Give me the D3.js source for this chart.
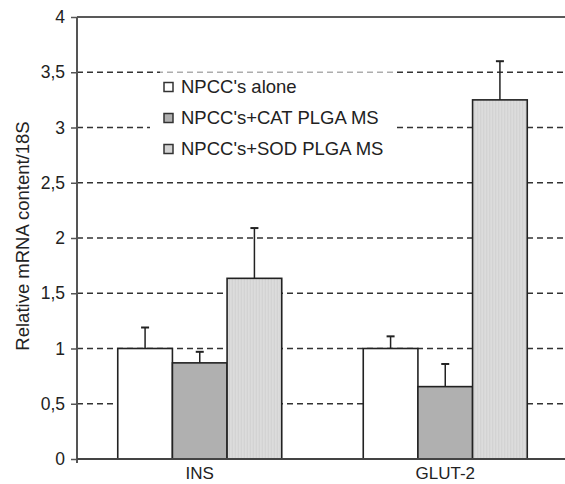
<!DOCTYPE html>
<html><head><meta charset="utf-8">
<script src="https://cdn.jsdelivr.net/npm/d3@7"></script>
<style>body{margin:0;background:#fff}svg{display:block;font-family:"Liberation Sans",Arial,sans-serif}</style>
</head><body>
<svg id="c" width="565" height="484"></svg>
<script>
const categories = ["INS", "GLUT-2"];
const series = ["NPCC's alone", "NPCC's+CAT PLGA MS", "NPCC's+SOD PLGA MS"];
const values = [[1.0, 0.87, 1.635], [1.0, 0.655, 3.25]];
const errors = [[0.19, 0.10, 0.455], [0.11, 0.205, 0.35]];
const yTicks = [0, 0.5, 1, 1.5, 2, 2.5, 3, 3.5, 4];
const fills = ["#ffffff", "#b0b0b0", "#dadada"];

const svg = d3.select("#c");
const L = 77, R = 568, T = 17, B = 459;
const FONT = "Liberation Sans, Arial, sans-serif";
const y = d3.scaleLinear().domain([0, 4]).range([B, T]);
const x0 = d3.scaleBand().domain(categories).range([L, R]).paddingInner(0.332).paddingOuter(0.166);
const x1 = d3.scaleBand().domain(series).range([0, x0.bandwidth()]);
const fmt = d => String(d).replace(".", ",");

// pattern for light bars
const defs = svg.append("defs");
const pat = defs.append("pattern").attr("id", "p").attr("width", 3).attr("height", 3).attr("patternUnits", "userSpaceOnUse");
pat.append("rect").attr("width", 3).attr("height", 3).attr("fill", "#dcdcdc");
pat.append("rect").attr("width", 1).attr("height", 3).attr("fill", "#d0d0d0");

// grid
svg.append("g").selectAll("line").data(yTicks.filter(d => d > 0 && d < 4)).join("line")
  .attr("x1", L).attr("x2", 565).attr("y1", d => y(d)).attr("y2", d => y(d))
  .attr("stroke", "#333").attr("stroke-width", 1.3).attr("stroke-dasharray", "6,4");
// top border
svg.append("line").attr("x1", L).attr("x2", 565).attr("y1", y(4)).attr("y2", y(4)).attr("stroke", "#222").attr("stroke-width", 1.5);

// legend box background
svg.append("rect").attr("x", 160).attr("y", 69).attr("width", 236).attr("height", 8).attr("fill", "#fff").attr("opacity", 0.6);
svg.append("rect").attr("x", 150).attr("y", 77).attr("width", 246).attr("height", 95).attr("fill", "#fff");

// bars
const g = svg.append("g").selectAll("g").data(categories).join("g")
  .attr("transform", d => `translate(${x0(d)},0)`);
const rows = (d, i) => series.map((s, j) => ({s, j, v: values[i][j], e: errors[i][j]}));
g.selectAll("rect").data(rows).join("rect")
  .attr("x", d => x1(d.s)).attr("width", x1.bandwidth())
  .attr("y", d => y(d.v)).attr("height", d => y(0) - y(d.v))
  .attr("fill", d => d.j === 2 ? "url(#p)" : fills[d.j]).attr("stroke", "#222").attr("stroke-width", 1.6);
const eb = g.selectAll("g.eb").data(rows).join("g").attr("class", "eb");
eb.append("line").attr("x1", d => x1(d.s) + x1.bandwidth() / 2).attr("x2", d => x1(d.s) + x1.bandwidth() / 2)
  .attr("y1", d => y(d.v)).attr("y2", d => y(d.v + d.e)).attr("stroke", "#222").attr("stroke-width", 1.5);
eb.append("line").attr("x1", d => x1(d.s) + x1.bandwidth() / 2 - 4).attr("x2", d => x1(d.s) + x1.bandwidth() / 2 + 4)
  .attr("y1", d => y(d.v + d.e)).attr("y2", d => y(d.v + d.e)).attr("stroke", "#222").attr("stroke-width", 2);

// y axis
const ya = svg.append("g").attr("transform", `translate(${L},0)`)
  .call(d3.axisLeft(y).tickValues(yTicks).tickFormat(fmt).tickSize(6).tickPadding(6));
ya.select(".domain").attr("d", `M0,${T}V${B + 4}`).attr("stroke", "#555").attr("stroke-width", 2);
ya.selectAll(".tick line").attr("stroke", "#555").attr("stroke-width", 1.5);
ya.selectAll(".tick text").attr("font-size", 17.5).attr("fill", "#222").attr("font-family", FONT);

// x axis
const xa = svg.append("g").attr("transform", `translate(0,${B})`)
  .call(d3.axisBottom(x0).tickSize(0).tickPadding(8));
xa.select(".domain").attr("d", `M${L},0H565`).attr("stroke", "#444").attr("stroke-width", 2);
xa.selectAll(".tick text").attr("font-size", 17).attr("fill", "#222").attr("font-family", FONT);

// y label
svg.append("text").attr("transform", `translate(29,236) rotate(-90)`)
  .attr("text-anchor", "middle").attr("font-size", 18.5).attr("fill", "#222").attr("font-family", FONT)
  .text("Relative mRNA content/18S");

// legend
const lg = svg.append("g").selectAll("g").data(series).join("g")
  .attr("transform", (d, i) => `translate(164,${87 + i * 31})`);
lg.append("rect").attr("x", 0).attr("y", -4.5).attr("width", 9).attr("height", 9)
  .attr("fill", (d, i) => i === 2 ? "#d4d4d4" : fills[i]).attr("stroke", "#333").attr("stroke-width", 1.5);
lg.append("text").attr("x", 17).attr("y", 0).attr("dy", "0.35em").attr("font-size", 18.5).attr("fill", "#222")
  .attr("font-family", FONT).text(d => d);
</script>
</body></html>
